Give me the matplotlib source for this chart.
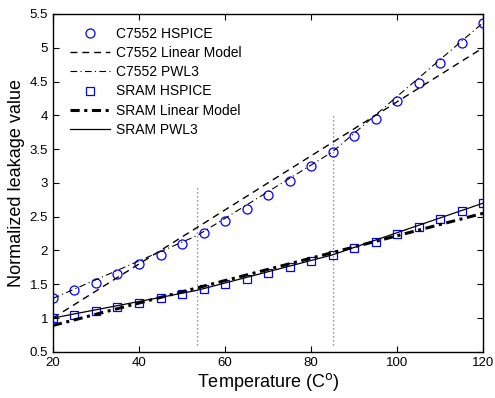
import matplotlib
matplotlib.use("Agg")
import matplotlib.pyplot as plt
import numpy as np

plt.rcParams['font.family'] = ['Liberation Sans', 'DejaVu Sans']

# Dati
temperature = np.arange(20, 121, 5)
c7552_hspice = [1.29, 1.41, 1.525, 1.65, 1.80, 1.93, 2.10, 2.265, 2.43, 2.615, 2.82,
                3.03, 3.25, 3.46, 3.70, 3.95, 4.21, 4.48, 4.77, 5.07, 5.37]
sram_hspice = [1.00, 1.05, 1.11, 1.165, 1.225, 1.29, 1.35, 1.43, 1.51, 1.58, 1.67,
               1.75, 1.84, 1.935, 2.03, 2.13, 2.24, 2.35, 2.46, 2.58, 2.70]

linear_x = [20, 120]
c7552_linear = [1.0, 5.0]
sram_linear = [0.89, 2.55]

pwl_x = [20, 53.5, 85, 120]
c7552_pwl3 = [1.29, 2.22, 3.46, 5.37]
sram_pwl3 = [1.00, 1.41, 1.935, 2.70]

# Linee verticali dei punti di rottura
break_x = [53.5, 85]
break_top = [2.95, 4.0]
break_bottom = 0.6

fig = plt.figure(figsize=(4.95, 3.98), dpi=100)
ax = fig.add_axes([0.107, 0.116, 0.869, 0.849])

for bx, bt in zip(break_x, break_top):
    ax.plot([bx, bx], [break_bottom, bt], linestyle=(0, (1, 2.2)), color='#707070', linewidth=0.9)

ax.plot(temperature, c7552_hspice, 'o', mfc='none', mec='blue', ms=6.5, mew=0.9,
        label='C7552 HSPICE')
ax.plot(linear_x, c7552_linear, color='black', linewidth=1.0, dashes=(5, 3.5),
        label='C7552 Linear Model')
ax.plot(pwl_x, c7552_pwl3, color='black', linewidth=0.8, linestyle=(0, (6, 3, 1, 3)),
        label='C7552 PWL3')
ax.plot(temperature, sram_hspice, 's', mfc='none', mec='blue', ms=6, mew=0.9,
        label='SRAM HSPICE')
ax.plot(linear_x, sram_linear, color='black', linewidth=2.2, linestyle=(0, (3, 1.5, 1, 1.5)),
        label='SRAM Linear Model')
ax.plot(pwl_x, sram_pwl3, color='black', linewidth=0.9, linestyle='-',
        label='SRAM PWL3')

ax.set_xlim(20, 120)
ax.set_ylim(0.5, 5.5)
ax.set_xticks(np.arange(20, 121, 20))
ax.set_yticks(np.arange(0.5, 5.51, 0.5))
ax.set_yticklabels(['0.5', '1', '1.5', '2', '2.5', '3', '3.5', '4', '4.5', '5', '5.5'])
ax.tick_params(direction='in', top=True, right=True, length=4, labelsize=9.5)
for s in ax.spines.values():
    s.set_linewidth(1.0)

ax.set_xlabel('Temperature (C$^{\\mathrm{o}}$)', fontsize=13, labelpad=2)
ax.set_ylabel('Normalized leakage value', fontsize=13, labelpad=3)

ax.legend(loc='upper left', frameon=False, fontsize=10, handlelength=2.85,
          handletextpad=0.43, labelspacing=0.37, borderaxespad=0.3,
          bbox_to_anchor=(0.018, 0.99))

fig.savefig('out.png', dpi=100)
